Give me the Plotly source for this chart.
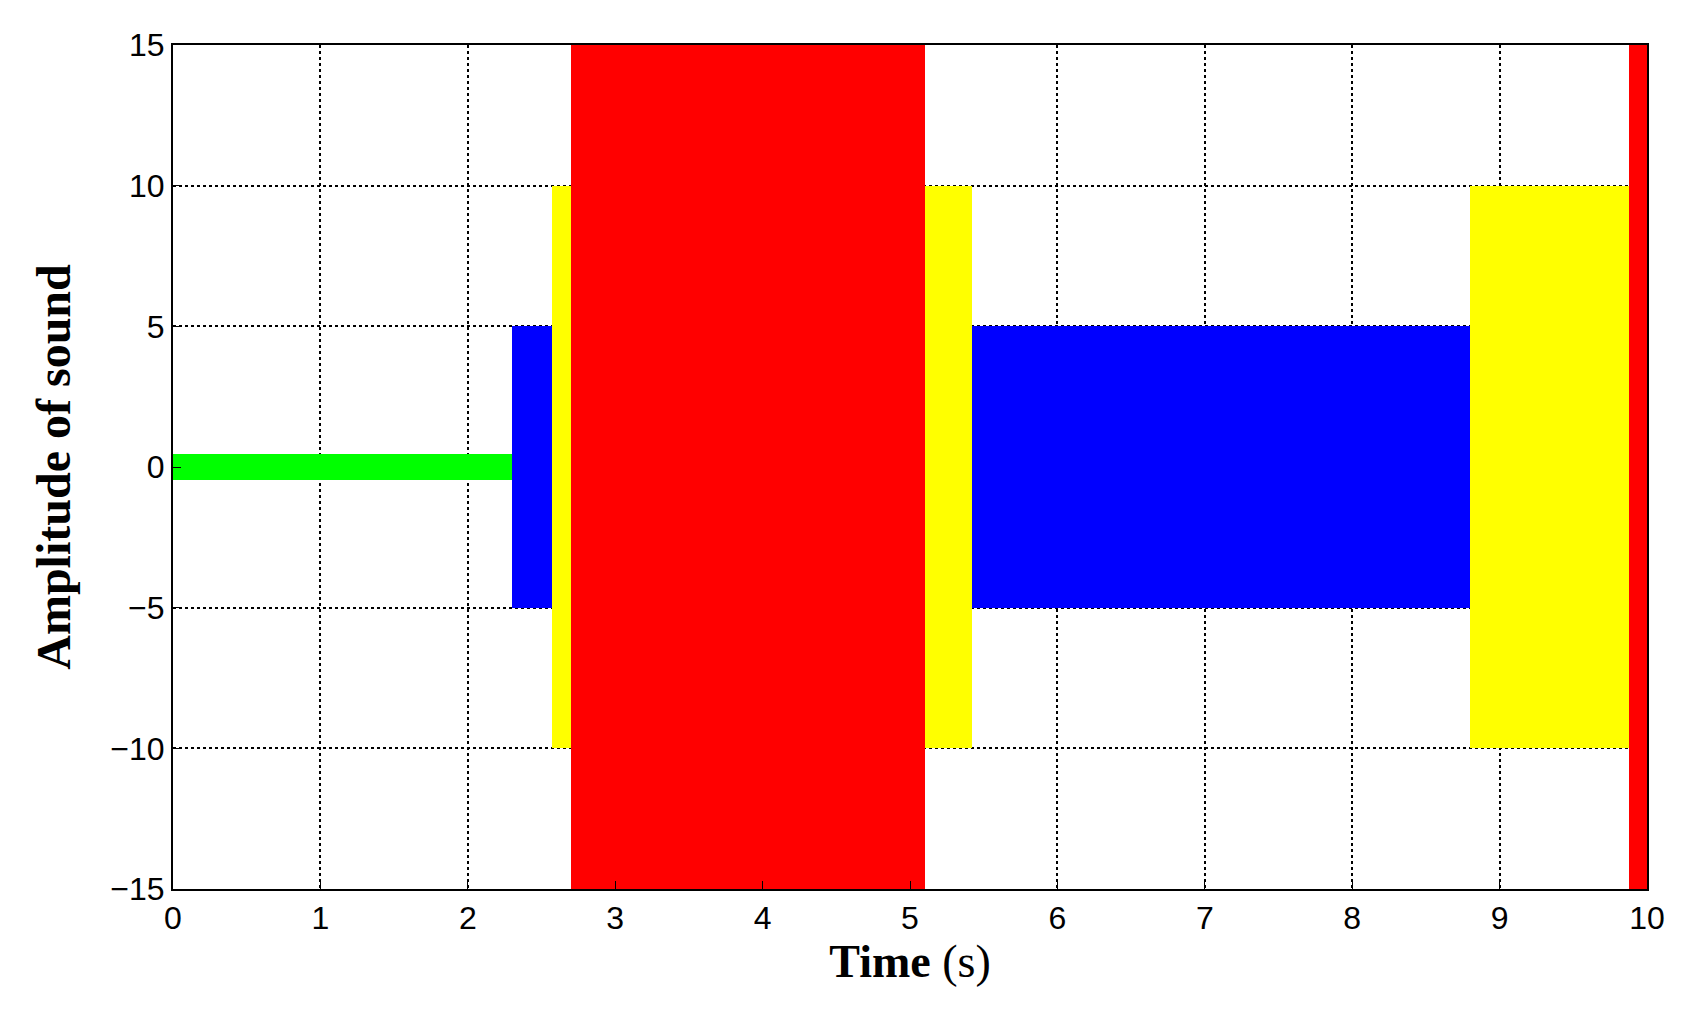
import plotly.graph_objects as go

seg_start = [0.0, 2.3, 2.57, 2.7, 5.1, 5.42, 8.8, 9.88]
seg_end   = [2.3, 2.57, 2.7, 5.1, 5.42, 8.8, 9.88, 10.0]
amplitude = [0.45, 5, 10, 16, 10, 5, 10, 16]
colors    = ["#00ff00", "#0000ff", "#ffff00", "#ff0000", "#ffff00", "#0000ff", "#ffff00", "#ff0000"]
x_ticks = list(range(0, 11))
y_ticks = [-15, -10, -5, 0, 5, 10, 15]

fig = go.Figure()
fig.add_trace(go.Bar(
    x=[(s + e) / 2 for s, e in zip(seg_start, seg_end)],
    width=[e - s for s, e in zip(seg_start, seg_end)],
    y=[2 * a for a in amplitude],
    base=[-a for a in amplitude],
    marker=dict(color=colors, line=dict(width=0)),
    showlegend=False,
))
axis_common = dict(showgrid=True, gridcolor="black", griddash="dot", gridwidth=1.5,
                   showline=True, linecolor="black", linewidth=2, mirror=True,
                   ticks="inside", ticklen=8, tickcolor="black", zeroline=False,
                   tickfont=dict(family="Liberation Sans Narrow, Liberation Sans", size=32, color="black"))
fig.update_xaxes(range=[0, 10], tickvals=x_ticks, **axis_common,
                 title=dict(text="<b>Time</b> (s)", font=dict(family="Liberation Serif", size=46, color="black"), standoff=2))
fig.update_yaxes(range=[-15, 15], tickvals=y_ticks, ticktext=[str(v).replace("-", "−") for v in y_ticks], **axis_common,
                 title=dict(text="<b>Amplitude of sound</b>", font=dict(family="Liberation Serif", size=48, color="black"), standoff=25))
fig.update_layout(width=1682, height=1017, plot_bgcolor="white", paper_bgcolor="white",
                  margin=dict(l=165, r=43, t=37, b=136), bargap=0)
fig.write_html("out.html")
